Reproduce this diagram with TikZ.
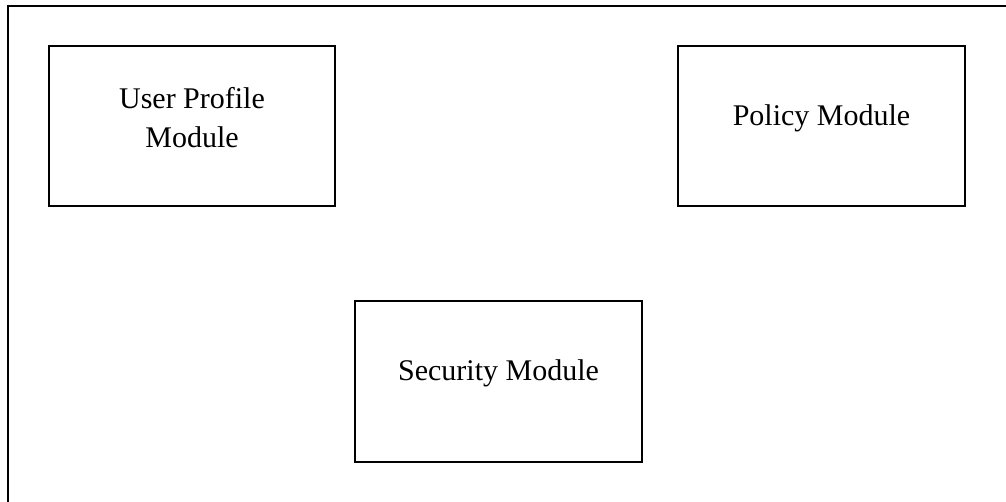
\documentclass[tikz,border=0pt]{standalone}
\usepackage{fontspec}
\setmainfont{Liberation Serif}
\begin{document}
\begin{tikzpicture}[x=0.5pt,y=-0.5pt,
  modbox/.style={draw=black,line width=1pt,minimum width=143pt,minimum height=80pt,inner sep=0pt},
  modtext/.style={align=center,font=\fontsize{15}{19.3}\selectfont,yshift=4.3pt}]
\useasboundingbox (0,0) rectangle (1006,502);
\coordinate (tr) at (1006,6);
\coordinate (tl) at (8,6);
\coordinate (bl) at (8,502);
\draw[line width=1pt] (tr) -- (tl) -- (bl);
\node[modbox,label={[modtext]center:User Profile\\Module}] (user) at (192,126) {};
\node[modbox,minimum width=143.5pt,label={[modtext]center:Policy Module}] (policy) at (821.5,126.5) {};
\node[modbox,minimum width=143.5pt,minimum height=80.5pt,label={[modtext]center:Security Module}] (security) at (498.5,381.5) {};
\end{tikzpicture}
\end{document}
